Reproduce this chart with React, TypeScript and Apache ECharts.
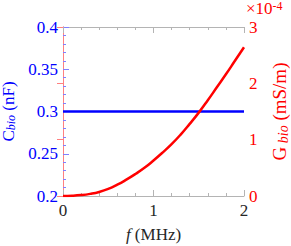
import React, { useEffect, useRef } from "react";
import * as echarts from "echarts";

const fMHz = [0, 0.1, 0.2, 0.3, 0.4, 0.5, 0.6, 0.7, 0.8, 0.9, 1.0, 1.1, 1.2, 1.3, 1.4, 1.5, 1.6, 1.7, 1.8, 1.9, 2.0];
const gBio = [0, 0.004, 0.016, 0.038, 0.072, 0.125, 0.2, 0.29, 0.39, 0.5, 0.63, 0.77, 0.92, 1.09, 1.28, 1.48, 1.7, 1.93, 2.16, 2.4, 2.64];
const cBioF = [0, 2];
const cBio = [0.3, 0.3];

const FONT = "'Times New Roman', 'Liberation Serif', serif";
const BLUE = "#0000ff";
const RED = "#ff0000";

export default function App() {
  const ref = useRef<HTMLDivElement>(null);
  useEffect(() => {
    const chart = echarts.init(ref.current!, null, { renderer: "svg" });
    const xCommon = {
      type: "value" as const,
      min: 0,
      max: 2,
      interval: 1,
      axisLine: { show: true, lineStyle: { color: "#b4b4b4", width: 1 } },
      axisTick: { show: true, inside: true, length: 6, lineStyle: { color: "#b4b4b4" } },
      minorTick: { show: true, splitNumber: 5, length: 3, lineStyle: { color: "#b4b4b4" } },
      splitLine: { show: false },
    };
    chart.setOption({
      animation: false,
      grid: { left: 63, right: 47, top: 27, bottom: 50, containLabel: false, outerBoundsMode: "none" },
      xAxis: [
        {
          ...xCommon,
          position: "bottom",
          axisLabel: { color: "#262626", fontFamily: FONT, fontSize: 17, margin: 6 },
          name: "{i|f} (MHz)",
          nameLocation: "middle",
          nameGap: 30,
          nameTextStyle: {
            color: "#262626",
            fontFamily: FONT,
            fontSize: 17,
            rich: { i: { fontStyle: "italic", fontFamily: FONT, fontSize: 17, color: "#262626" } },
          },
        },
        { ...xCommon, position: "top", axisLabel: { show: false } },
      ],
      yAxis: [
        {
          type: "value",
          position: "left",
          min: 0.2,
          max: 0.4,
          interval: 0.05,
          axisLine: { show: true, lineStyle: { color: "#8080ff", width: 1 } },
          axisTick: { show: true, inside: true, length: 6, lineStyle: { color: "#8080ff" } },
          minorTick: { show: true, splitNumber: 5, length: 3, lineStyle: { color: "#8080ff" } },
          splitLine: { show: false },
          axisLabel: {
            color: BLUE,
            fontFamily: FONT,
            fontSize: 17,
            margin: 5,
            formatter: (v: number) => String(parseFloat(v.toFixed(2))),
          },
          name: "C{sub|bio} (nF)",
          nameLocation: "middle",
          nameGap: 40,
          nameRotate: 90,
          nameTextStyle: {
            color: BLUE,
            fontFamily: FONT,
            fontSize: 17,
            lineHeight: 17,
            rich: {
              sub: { fontStyle: "italic", fontFamily: FONT, fontSize: 12, lineHeight: 9, verticalAlign: "bottom", color: BLUE },
            },
          },
        },
        {
          type: "value",
          position: "right",
          min: 0,
          max: 3,
          interval: 1,
          axisLine: { show: true, lineStyle: { color: "#ff8080", width: 1 } },
          axisTick: { show: true, inside: true, length: 6, lineStyle: { color: "#ff8080" } },
          splitLine: { show: false },
          axisLabel: { color: RED, fontFamily: FONT, fontSize: 17, margin: 5 },
          name: "G{sub| bio} (mS/m)",
          nameLocation: "middle",
          nameGap: 24,
          nameRotate: 90,
          nameTextStyle: {
            color: RED,
            fontFamily: FONT,
            fontSize: 19,
            lineHeight: 22,
            rich: {
              sub: { fontStyle: "italic", fontFamily: FONT, fontSize: 14, lineHeight: 13, verticalAlign: "bottom", color: RED },
            },
          },
        },
      ],
      graphic: [
        {
          type: "text",
          left: 246,
          top: 0,
          style: {
            text: "×10{sup|-4}",
            fill: RED,
            fontFamily: FONT,
            fontSize: 17,
            lineHeight: 17,
            rich: { sup: { fontSize: 12, lineHeight: 10, verticalAlign: "top", fill: RED, fontFamily: FONT } },
          },
        },
      ],
      series: [
        {
          type: "line",
          xAxisIndex: 0,
          yAxisIndex: 0,
          data: cBioF.map((f, i) => [f, cBio[i]]),
          showSymbol: false,
          lineStyle: { color: BLUE, width: 2.5 },
          z: 2,
        },
        {
          type: "line",
          xAxisIndex: 0,
          yAxisIndex: 1,
          data: fMHz.map((f, i) => [f, gBio[i]]),
          showSymbol: false,
          smooth: true,
          lineStyle: { color: RED, width: 2.5 },
          z: 3,
        },
      ],
    });
    return () => chart.dispose();
  }, []);
  return <div ref={ref} style={{ width: 291, height: 246, position: "absolute", left: 0, top: 0 }} />;
}
